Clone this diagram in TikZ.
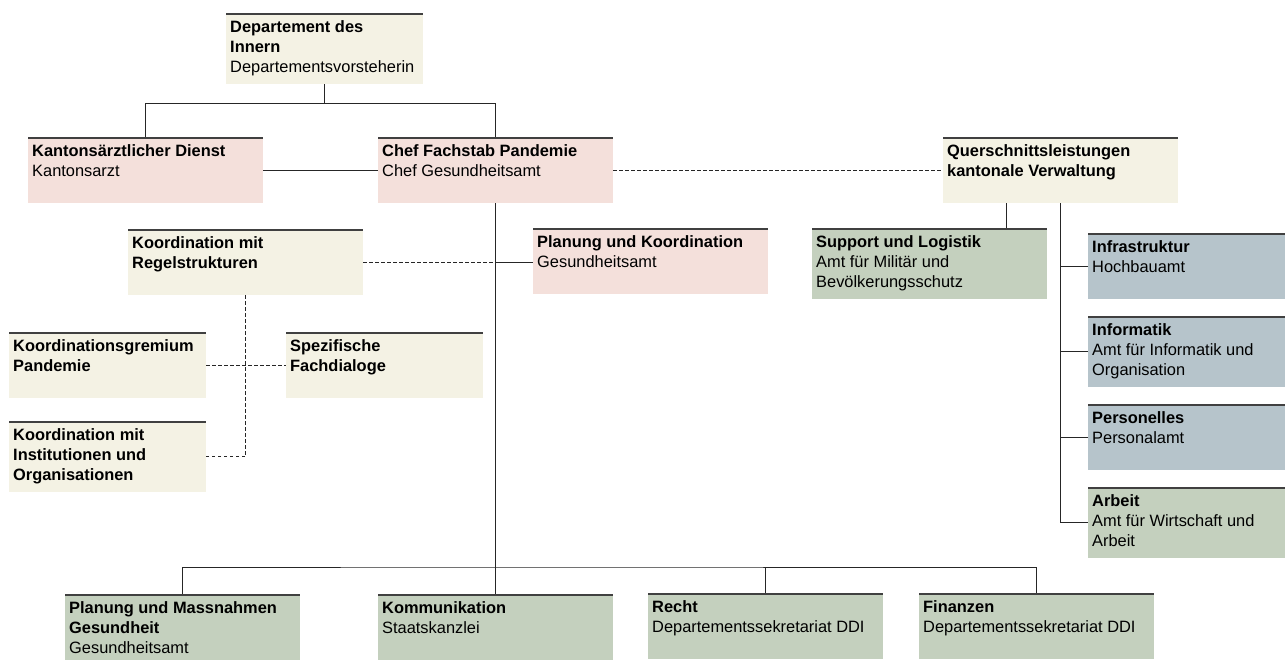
\documentclass[tikz,border=0pt]{standalone}
\usepackage{fontspec}
\setmainfont{Liberation Sans}
\definecolor{cream}{HTML}{F4F2E4}
\definecolor{rose}{HTML}{F4E0DB}
\definecolor{sage}{HTML}{C4D0BE}
\definecolor{slate}{HTML}{B6C4CB}

\begin{document}
\begin{tikzpicture}[x=1pt, y=-1pt,
    every node/.style={font=\fontsize{16.4}{20}\selectfont},
    orgbox/.style={anchor=north west, inner sep=0pt, minimum width=235pt, minimum height=66pt, fill=#1,
      path picture={\draw[line width=3pt, black!75] (path picture bounding box.north west) -- (path picture bounding box.north east);}},
    narrowbox/.style={minimum width=197pt},
    tallbox/.style={minimum height=71pt},
    orgtext/.style={anchor=north west, inner sep=0pt, align=left, xshift=4pt, yshift=-7pt,
      execute at begin node=\rule{0pt}{13pt}},
    link/.style={draw=black!85, line width=0.9pt},
    softlink/.style={link, dash pattern=on 3.5pt off 2.5pt}]

  \useasboundingbox (0,0) rectangle (1286,661);

  % top of the organisation
  \node[orgbox=cream, narrowbox, tallbox] (dep) at (226,13) {};
  \node[orgtext] (deptxt) at (dep.north west) {\textbf{Departement des}\\\textbf{Innern}\\Departementsvorsteherin};

  \node[orgbox=rose] (kant) at (28,137) {};
  \node[orgtext] (kanttxt) at (kant.north west) {\textbf{Kantonsärztlicher Dienst}\\Kantonsarzt};
  \node[orgbox=rose] (chef) at (378,137) {};
  \node[orgtext] (cheftxt) at (chef.north west) {\textbf{Chef Fachstab Pandemie}\\Chef Gesundheitsamt};
  \node[orgbox=cream] (quer) at (943,137) {};
  \node[orgtext] (quertxt) at (quer.north west) {\textbf{Querschnittsleistungen}\\\textbf{kantonale Verwaltung}};

  % coordination
  \node[orgbox=cream] (regel) at (128,229) {};
  \node[orgtext] (regeltxt) at (regel.north west) {\textbf{Koordination mit}\\\textbf{Regelstrukturen}};
  \node[orgbox=rose] (plko) at (533,228) {};
  \node[orgtext] (plkotxt) at (plko.north west) {\textbf{Planung und Koordination}\\Gesundheitsamt};
  \node[orgbox=cream, narrowbox] (gremium) at (9,332) {};
  \node[orgtext] (gremiumtxt) at (gremium.north west) {\textbf{Koordinationsgremium}\\\textbf{Pandemie}};
  \node[orgbox=cream, narrowbox] (spez) at (286,332) {};
  \node[orgtext] (speztxt) at (spez.north west) {\textbf{Spezifische}\\\textbf{Fachdialoge}};
  \node[orgbox=cream, narrowbox, tallbox] (inst) at (9,421) {};
  \node[orgtext] (insttxt) at (inst.north west) {\textbf{Koordination mit}\\\textbf{Institutionen und}\\\textbf{Organisationen}};

  % cross-sectional services
  \node[orgbox=sage, tallbox] (supp) at (812,228) {};
  \node[orgtext] (supptxt) at (supp.north west) {\textbf{Support und Logistik}\\Amt für Militär und\\Bevölkerungsschutz};
  \node[orgbox=slate, narrowbox] (infra) at (1088,233) {};
  \node[orgtext] (infratxt) at (infra.north west) {\textbf{Infrastruktur}\\Hochbauamt};
  \node[orgbox=slate, narrowbox, tallbox] (info) at (1088,316) {};
  \node[orgtext] (infotxt) at (info.north west) {\textbf{Informatik}\\Amt für Informatik und\\Organisation};
  \node[orgbox=slate, narrowbox] (pers) at (1088,404) {};
  \node[orgtext] (perstxt) at (pers.north west) {\textbf{Personelles}\\Personalamt};
  \node[orgbox=sage, narrowbox, tallbox] (arbeit) at (1088,487) {};
  \node[orgtext] (arbeittxt) at (arbeit.north west) {\textbf{Arbeit}\\Amt für Wirtschaft und\\Arbeit};

  % bottom row
  \node[orgbox=sage] (plmass) at (65,594) {};
  \node[orgtext] (plmasstxt) at (plmass.north west) {\textbf{Planung und Massnahmen}\\\textbf{Gesundheit}\\Gesundheitsamt};
  \node[orgbox=sage] (komm) at (378,594) {};
  \node[orgtext] (kommtxt) at (komm.north west) {\textbf{Kommunikation}\\Staatskanzlei};
  \node[orgbox=sage] (recht) at (648,593) {};
  \node[orgtext] (rechttxt) at (recht.north west) {\textbf{Recht}\\Departementssekretariat DDI};
  \node[orgbox=sage] (fin) at (919,593) {};
  \node[orgtext] (fintxt) at (fin.north west) {\textbf{Finanzen}\\Departementssekretariat DDI};

  % connectors
  \draw[link] (dep.south) -- ++(0,19) coordinate (depjoin);
  \draw[link] (kant.north) |- (depjoin) -| (chef.north);
  \draw[link] (kant.east) -- (chef.west);
  \draw[softlink] (chef.east) -- (quer.west);
  \draw[link] (chef.south) -- (komm.north);
  \coordinate (lowbar) at (495.5,567);
  \draw[link] (plmass.north) |- (lowbar) -| (fin.north);
  \draw[link] (recht.north) -- (recht.north |- lowbar);
  \draw[softlink] (regel.east) -- (regel.east -| chef.south);
  \draw[link] (regel.east -| chef.south) -- (regel.east -| plko.west);
  \draw[softlink] (regel.south) |- (inst.east);
  \draw[softlink] (gremium.east) -- (spez.west);
  \draw[link] ([xshift=-54pt]quer.south) -- ([xshift=-54pt]quer.south |- supp.north);
  \draw[link] (quer.south) |- (arbeit.west);
  \foreach \unitname in {infra, info, pers}
    \draw[link] (\unitname.west) -- (\unitname.west -| quer.south);
\end{tikzpicture}
\end{document}
